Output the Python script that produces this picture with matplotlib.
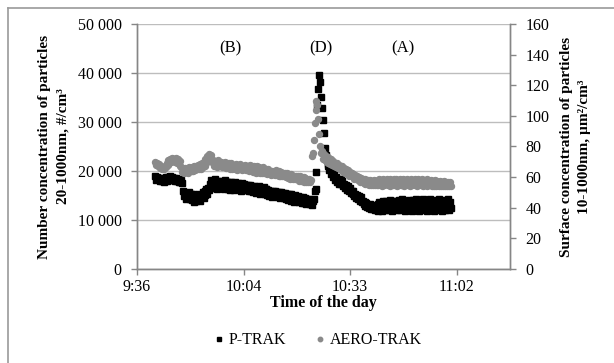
import numpy as np
from matplotlib import pyplot
from matplotlib.lines import Line2D
from matplotlib.ticker import FuncFormatter, MultipleLocator

pyplot.rcParams["font.family"] = ["Liberation Serif", "DejaVu Serif"]

# sampling: one reading every 15 s, starting 9:41 (minutes since midnight)
start_min = 581
step_min = 0.25

# P-TRAK, number concentration (thousand #/cm3), 20 readings per row = 5 min
ptrak_k = [
    18.9, 18.1, 18.8, 18.3, 18.6, 17.9, 18.4, 18.0, 18.5, 17.8, 18.3, 18.7, 18.0, 18.8, 18.2, 18.6, 18.9, 18.1, 18.7, 18.2,
    18.6, 17.9, 18.5, 18.0, 18.4, 17.8, 18.3, 17.7, 18.2, 17.6, 15.9, 14.9, 15.6, 14.3, 15.4, 14.6, 15.8, 14.2, 15.2, 14.7,
    14.0, 15.3, 13.6, 14.9, 13.8, 15.1, 14.2, 15.4, 13.9, 15.0, 14.6, 15.7, 14.4, 15.9, 15.0, 16.3, 15.4, 16.6, 16.1, 17.3,
    18.1, 16.5, 17.8, 16.8, 18.3, 16.6, 17.7, 16.4, 18.0, 16.9, 16.5, 17.9, 16.7, 17.6, 16.3, 18.1, 16.8, 17.7, 16.4, 17.8,
    17.5, 16.2, 17.7, 16.5, 17.4, 16.1, 17.8, 16.6, 16.3, 17.6, 16.4, 17.3, 16.0, 17.5, 16.5, 16.2, 17.4, 16.1, 17.2, 16.3,
    17.1, 15.9, 17.2, 16.0, 16.9, 15.7, 17.0, 15.9, 16.8, 15.5, 16.7, 15.8, 16.9, 15.4, 16.6, 15.7, 15.5, 16.7, 15.3, 16.4,
    16.3, 15.1, 16.1, 14.9, 16.0, 15.2, 14.7, 15.9, 15.0, 16.0, 14.8, 15.7, 14.6, 15.8, 14.9, 14.5, 15.7, 14.7, 15.6, 14.4,
    15.5, 14.3, 15.3, 14.1, 15.2, 14.2, 13.9, 15.2, 14.0, 14.9, 13.7, 15.0, 14.1, 13.8, 14.9, 13.6, 14.7, 13.8, 13.5, 14.6,
    14.2, 13.5, 14.5, 13.3, 14.3, 13.4, 14.2, 13.2, 14.0, 13.1, 13.9, 14.3, 15.9, 16.3, 19.8, 33.5, 36.8, 39.6, 38.2, 35.0,
    32.9, 30.5, 27.8, 24.7, 23.2, 22.3, 21.0, 21.4, 20.1, 20.7, 19.3, 19.9, 18.7, 19.3, 18.1, 18.7, 17.8, 18.4, 17.3, 17.9,
    18.3, 17.3, 18.0, 17.0, 17.4, 16.5, 17.2, 16.2, 16.9, 15.9, 16.5, 15.6, 16.0, 15.3, 15.9, 14.8, 15.4, 14.5, 15.1, 14.2,
    14.9, 13.9, 14.6, 13.6, 13.9, 13.3, 13.6, 12.9, 13.4, 12.6, 13.1, 12.5, 13.3, 12.3, 12.9, 12.2, 13.0, 12.0, 12.8, 12.1,
    13.3, 11.9, 13.7, 12.2, 13.4, 11.8, 13.8, 12.4, 12.0, 13.9, 12.5, 13.5, 12.0, 14.0, 12.3, 13.6, 11.9, 13.8, 12.4, 13.4,
    13.8, 12.1, 13.3, 14.1, 12.0, 13.6, 12.4, 14.2, 12.2, 13.7, 11.9, 13.9, 12.7, 12.1, 14.1, 12.5, 13.5, 11.9, 14.0, 12.4,
    13.7, 12.0, 14.2, 12.5, 13.4, 11.8, 13.9, 12.7, 12.2, 14.3, 12.1, 13.6, 12.5, 14.0, 11.9, 13.8, 12.4, 14.2, 12.1, 13.5,
    13.9, 11.9, 13.4, 14.1, 12.3, 13.7, 12.0, 14.2, 12.5, 13.5, 11.8, 14.0, 12.7, 12.1, 13.8, 12.4, 14.3, 12.0, 13.6, 12.5,
]

# AERO-TRAK, surface concentration (um2/cm3), same timestamps
aerotrak = [
    70, 68, 69.5, 67, 68.5, 66, 67.5, 65, 66.5, 65, 67, 66.5, 69, 68, 71, 69.5, 72, 70, 72.5, 70.5,
    72, 70, 72.5, 69.5, 71.5, 70, 70.5, 67.5, 66.5, 63.5, 65.5, 63, 66, 63.5, 65.5, 62.5, 66.5, 64, 66, 64,
    66.5, 64, 67.5, 64.5, 67, 65, 68, 65.5, 68.5, 65.5, 69, 66.5, 70, 67, 71.5, 69, 74, 72, 75, 70.5,
    74.5, 70, 71, 67.5, 70.5, 67, 69.5, 66.5, 71, 67, 68.5, 70, 66.5, 69.5, 67, 70, 66, 69, 66.5, 69,
    68.5, 65, 69, 65.5, 68, 67, 65, 68.5, 64.5, 68, 65, 68.5, 66, 67.5, 64.5, 67.5, 65, 68, 64.5, 67.5,
    67, 64, 68, 64.5, 67, 63.5, 67.5, 64, 66, 63, 67, 63.5, 66.5, 63, 66, 62.5, 66.5, 63, 65.5, 62.5,
    65, 62, 65.5, 62.5, 64, 61.5, 64, 62.5, 63.5, 61.5, 64.5, 61.5, 63.5, 61, 64, 60.5, 63.5, 60.5, 63, 60.5,
    63, 60, 62.5, 59.5, 62, 59, 62, 59.5, 61, 58.5, 61, 59, 60.5, 58.5, 60.5, 57.5, 60.5, 57.5, 60, 57.5,
    60, 57, 59.5, 56.5, 59, 56.5, 58.5, 57, 58, 74, 76, 84, 95, 104, 110, 107, 98, 88, 80, 76,
    77, 72, 75, 71, 74, 70, 73, 69.5, 72, 68.5, 71.5, 68, 70.5, 67.5, 69.5, 66.5, 69, 66, 68, 65.5,
    67.5, 64.5, 67, 63.5, 66, 63, 65, 62, 64.5, 61, 63.5, 60.5, 62.5, 60, 62, 59, 61.5, 58.5, 61, 58,
    60, 57, 59.5, 56.5, 59, 56, 58.5, 55.5, 58, 55.5, 58, 55, 58, 55, 57.5, 55, 58, 55, 57.5, 55,
    58, 55, 58.5, 55.5, 58, 54.5, 58.5, 55, 57.5, 55.5, 59, 55, 58, 54.5, 58.5, 55.5, 58, 55, 58.5, 55,
    58.5, 54.5, 58, 55.5, 59, 55, 58, 55, 58.5, 54.5, 58, 55.5, 58.5, 55, 57.5, 54.5, 58.5, 55, 58, 55.5,
    58.5, 55, 58, 54.5, 58.5, 55.5, 57.5, 55, 59, 54.5, 58, 55.5, 58, 54.5, 58.5, 55, 57.5, 55, 58, 54.5,
    57.5, 54.5, 58, 54, 57.5, 55, 57, 54, 57.5, 54.5, 57, 54, 57.5, 54.5, 56.5, 54, 57, 54, 56.5, 54.5,
]

period_labels = ["(B)", "(D)", "(A)"]
period_times = [601.2, 625.6, 647.8]

time_min = start_min + step_min * np.arange(len(ptrak_k))
ptrak = np.array(ptrak_k) * 1000

fig = pyplot.figure(figsize=(6.14, 3.63), dpi=100)
ax = fig.add_axes([0.2231, 0.259, 0.6075, 0.675])
ax2 = ax.twinx()

ax.plot(time_min, ptrak, ls="none", marker="s", ms=3.8, color="#000000",
        mec="#000000", label="P-TRAK")
ax2.plot(time_min, aerotrak, ls="none", marker="o", ms=4.3, color="#8a8a8a",
         mec="#8a8a8a", label="AERO-TRAK")

grey = "#868686"
ax.set_xlim(576, 676.8)
ax.set_ylim(0, 50000)
ax2.set_ylim(0, 160)
ax.xaxis.set_major_locator(MultipleLocator(28.8))
ax.yaxis.set_major_locator(MultipleLocator(10000))
ax2.yaxis.set_major_locator(MultipleLocator(20))
ax.xaxis.set_major_formatter(FuncFormatter(
    lambda m, pos: f"{int(m + 1e-6) // 60}:{int(m + 1e-6) % 60:02d}"))
ax.yaxis.set_major_formatter(FuncFormatter(
    lambda v, pos: f"{int(v):,}".replace(",", " ")))
ax.grid(axis="y", color="#bdbdbd", lw=1.0)
ax.set_axisbelow(True)

for a in (ax, ax2):
    a.spines["top"].set_visible(False)
    for s in ("left", "right", "bottom"):
        a.spines[s].set_color(grey)
        a.spines[s].set_linewidth(1.0)
    a.tick_params(colors=grey, labelcolor="#000000", labelsize=11.5,
                  length=4, width=1.0, direction="out", pad=7)
ax.tick_params(axis="x", pad=3)

ax.set_xlabel("Time of the day", fontsize=11.5, fontweight="bold", labelpad=0)
ax.set_ylabel("Number concentration of particles\n20-1000nm, #/cm³",
              fontsize=11, fontweight="bold", linespacing=1.5, labelpad=6)
ax2.set_ylabel("Surface concentration of particles\n10-1000nm, µm²/cm³",
               fontsize=11, fontweight="bold", linespacing=1.5, labelpad=8)

for label, t in zip(period_labels, period_times):
    ax.text(t, 45000, label, fontsize=12, ha="center", va="center")

handles = [
    Line2D([], [], ls="none", marker="s", ms=3.0, color="#000000"),
    Line2D([], [], ls="none", marker="o", ms=3.2, color="#8a8a8a"),
]
fig.legend(handles, ["P-TRAK", "AERO-TRAK"], loc="center",
           bbox_to_anchor=(0.518, 0.063), ncol=2, frameon=False,
           fontsize=11.5, handlelength=0.6, handletextpad=0.3,
           columnspacing=1.8)

# chart area border (left and top edges visible)
fig.add_artist(Line2D([7.5 / 614, 7.5 / 614], [0, 1 - 7.5 / 363],
                      transform=fig.transFigure, color="#9a9a9a", lw=1.2))
fig.add_artist(Line2D([7.5 / 614, 1], [1 - 7.5 / 363, 1 - 7.5 / 363],
                      transform=fig.transFigure, color="#9a9a9a", lw=1.2))

pyplot.savefig("out.png", dpi=100)
